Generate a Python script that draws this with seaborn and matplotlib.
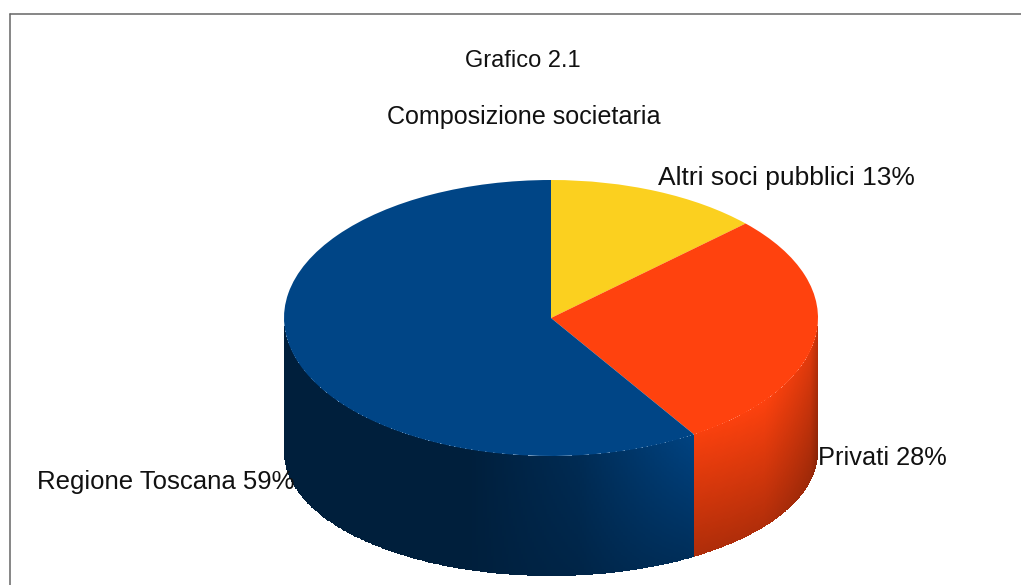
import numpy as np
import matplotlib
matplotlib.use("Agg")
import matplotlib.pyplot as plt
from matplotlib.lines import Line2D
import seaborn as sns

categories = ["Altri soci pubblici", "Privati", "Regione Toscana"]
shares = [13, 28, 59]
colours = ["#fbd01f", "#ff420e", "#004586"]
title_lines = ["Grafico 2.1", "Composizione societaria"]

W, H = 1021, 585
sns.set_theme(style="white")
plt.rcParams["font.family"] = ["Liberation Sans", "DejaVu Sans"]

fig = plt.figure(figsize=(W / 100, H / 100), dpi=100, facecolor="white")
ax = fig.add_axes([0, 0, 1, 1])

# Pie top through the library; the axes stretch the unit circle to an ellipse
CX, CY, RX, RY = 551, 318, 267, 138
ax.pie(shares, colors=colours, startangle=90, counterclock=False,
       wedgeprops={"linewidth": 0, "zorder": 3})
ax.set_aspect("auto")
ax.set_xlim(-CX / RX, (W - CX) / RX)
ax.set_ylim((CY - H) / RY, CY / RY)
ax.axis("off")

# Extruded wall, derived from the same shares (front-facing part only)
drop = 134 / RY
bottom_ratio = 124 / RY
edges = np.cumsum([0] + shares) / sum(shares) * 2 * np.pi
for i in (1, 2):
    a0, a1 = max(edges[i], 0.5 * np.pi), min(edges[i + 1], 1.5 * np.pi)
    th = np.linspace(a0, a1, 300)
    t = np.linspace(0, 1, 80)
    T, D = np.meshgrid(th, t)
    X = np.sin(T)
    Y = (1 - D) * np.cos(T) + D * (bottom_ratio * np.cos(T) - drop)
    Tc = 0.5 * (T[:-1, :-1] + T[1:, 1:])
    Dc = 0.5 * (D[:-1, :-1] + D[1:, 1:])
    Xc = np.sin(Tc)
    side = np.interp(Xc, [-1, -0.3, 0.1, 0.35, 0.536, 0.8, 0.97, 1.0],
                     [0.45, 0.45, 0.62, 0.82, 0.97, 0.99, 0.88, 0.75])
    vert = 1 - 0.30 * Dc * np.clip((Xc + 0.3) / 0.8, 0, 1)
    base = np.array(matplotlib.colors.to_rgb(colours[i]))
    rgb = np.clip((side * vert)[..., None] * base, 0, 1)
    ax.pcolormesh(X, Y, rgb, shading="flat", antialiased=False,
                  linewidth=0, zorder=2)

fx = lambda px: px / W
fy = lambda py: 1 - py / H
fig.text(fx(523), fy(61), title_lines[0], ha="center", va="center",
         fontsize=17, color="#111111")
fig.text(fx(523.5), fy(117), title_lines[1], ha="center", va="center",
         fontsize=18.1, color="#111111")

label_sizes = [19.0, 18.3, 18.5]
for name, share, px, py, fs in zip(categories, shares, [658, 818, 37],
                                   [178, 458, 482], label_sizes):
    fig.text(fx(px), fy(py), f"{name} {share}%", ha="left", va="center",
             fontsize=fs, color="#111111", zorder=5)

frame = "#666666"
fig.add_artist(Line2D([fx(9.5), fx(9.5)], [fy(13.5), 0], color=frame, lw=1.1))
fig.add_artist(Line2D([fx(9.5), 1], [fy(13.5), fy(13.5)], color=frame, lw=1.1))

fig.savefig("out.png", dpi=100, facecolor="white")
